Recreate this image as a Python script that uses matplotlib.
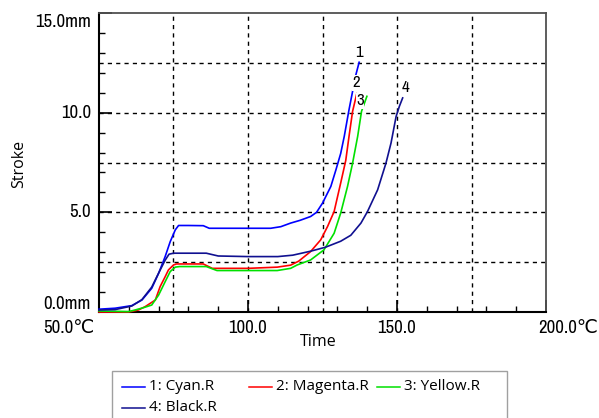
import matplotlib
matplotlib.use("Agg")
import matplotlib.pyplot as plt
from matplotlib.lines import Line2D
from matplotlib.patches import Rectangle
from matplotlib import font_manager

# --- dados ---
temp_cyan = [50, 55.4, 61, 64.4, 67.7, 70, 72.2, 73.9, 75.6, 76.7, 80, 85, 87, 95, 100,
             107.6, 111, 114.3, 117.5, 121, 123, 125, 127.8, 129.5, 131.1, 132.3, 133.9,
             135.1, 136.2, 137.3]
stroke_cyan = [0.14, 0.19, 0.32, 0.6, 1.19, 1.94, 2.78, 3.53, 4.12, 4.34, 4.34, 4.33, 4.2,
               4.2, 4.2, 4.2, 4.28, 4.46, 4.6, 4.79, 5.0, 5.46, 6.3, 7.13, 7.95, 8.81,
               10.15, 11.07, 11.9, 12.53]

temp_magenta = [50, 60, 63.2, 65.5, 68.9, 70.5, 72.2, 73.3, 75, 76, 85, 88, 100, 109.8,
                114.3, 117, 121, 124.4, 126.7, 128.9, 131.1, 132.8, 133.9, 135.1, 136.5]
stroke_magenta = [0.0, 0.0, 0.1, 0.27, 0.6, 1.27, 1.77, 2.11, 2.36, 2.41, 2.41, 2.19, 2.19,
                  2.25, 2.35, 2.55, 3.03, 3.62, 4.29, 5.04, 6.47, 7.6, 8.81, 10.07, 10.95]

temp_yellow = [50, 59.9, 62.1, 65, 67.7, 70, 72.2, 73.9, 75.6, 77, 86, 89.6, 109.8, 114.3,
               116.5, 121, 125.5, 128.9, 131.1, 133.4, 135.1, 136.8, 138.1, 139.9]
stroke_yellow = [0.05, 0.02, 0.1, 0.22, 0.35, 0.85, 1.52, 2.03, 2.25, 2.28, 2.28, 2.08,
                 2.08, 2.19, 2.36, 2.61, 3.12, 3.95, 4.96, 6.3, 7.47, 8.81, 10.07, 10.82]

temp_black = [50, 55.4, 61, 64.4, 67.7, 70, 72.2, 73.5, 75, 80, 86, 90, 100, 110, 115,
              121, 126, 131.1, 134.5, 137.9, 140.1, 143.5, 146.3, 148, 149.7, 150.8, 151.9]
stroke_black = [0.1, 0.12, 0.3, 0.62, 1.25, 1.95, 2.6, 2.9, 2.95, 2.95, 2.95, 2.81, 2.78,
                2.78, 2.85, 3.05, 3.25, 3.55, 3.85, 4.46, 5.04, 6.13, 7.47, 8.48, 9.81,
                10.32, 10.74]

nomes = ["1: Cyan.R", "2: Magenta.R", "3: Yellow.R", "4: Black.R"]
rotulos = ["1", "2", "3", "4"]
cores = ["#0000ff", "#ff0000", "#00e000", "#101090"]

# posições dos números no fim de cada curva
rot_x = [137.3, 136.2, 137.5, 153.0]
rot_y = [13.0, 11.49, 10.6, 11.24]

x_ticks = [50, 100, 150, 200]
x_tick_labels = ["50.0\u2103", "100.0", "150.0", "200.0\u2103"]
y_ticks = [0, 5, 10, 15]
y_tick_labels = ["0.0mm", "5.0", "10.0", "15.0mm"]

# procura uma fonte estreita (parecida com a do software original)
fonte_num = None
tam_num = 13.5
for f in font_manager.fontManager.ttflist:
    if "Narrow" in f.name or "Condensed" in f.name:
        fonte_num = [f.name, "DejaVu Sans"]
        break
if fonte_num is None:
    fonte_num = ["Liberation Sans", "DejaVu Sans"]
    tam_num = 10.5
fonte_txt = ["Open Sans", "DejaVu Sans"]

W, H = 599, 418
fig = plt.figure(figsize=(W / 100, H / 100), dpi=100)
ax = fig.add_axes([99 / W, 1 - 312 / H, (546 - 99) / W, (312 - 13) / H])

series = [(temp_cyan, stroke_cyan), (temp_magenta, stroke_magenta),
          (temp_yellow, stroke_yellow), (temp_black, stroke_black)]
for (xs, ys), cor in zip(series, cores):
    ax.plot(xs, ys, color=cor, lw=1.2, zorder=3, clip_on=False)

for rx, ry, r in zip(rot_x, rot_y, rotulos):
    ax.text(rx, ry, r, ha="center", va="center", fontsize=tam_num - 1.5, family=fonte_num,
            zorder=5, bbox=dict(facecolor="white", edgecolor="none", pad=0.3))

ax.set_xlim(50, 200)
ax.set_ylim(0, 15)

# grade tracejada
for gx in [75, 100, 125, 150, 175]:
    ax.axvline(gx, color="black", lw=1.0, ls=(0, (3, 3)), zorder=1)
for gy in [2.5, 5, 7.5, 10, 12.5]:
    ax.axhline(gy, color="black", lw=1.0, ls=(0, (3, 3)), zorder=1)

ax.set_xticks(x_ticks)
ax.set_yticks(y_ticks)
ax.set_xticks(range(50, 201, 10), minor=True)
ax.set_yticks(range(0, 16), minor=True)
ax.set_xticklabels([])
ax.set_yticklabels([])
ax.tick_params(which="major", direction="in", length=9, width=1.2, color="black")
ax.tick_params(which="minor", direction="in", length=4.3, width=1.0, color="black")

for s in ["left", "bottom"]:
    ax.spines[s].set_color("black")
    ax.spines[s].set_linewidth(1.5)
for s in ["top", "right"]:
    ax.spines[s].set_color("#505050")
    ax.spines[s].set_linewidth(1.3)

# rótulos dos eixos (texto no estilo do software original)
ha_x = ["right", "center", "center", "right"]
for v, lab, ha in zip(x_ticks, x_tick_labels, ha_x):
    px = 99 + (v - 50) / 150 * (546 - 99)
    if v == x_ticks[0]:
        px -= 4
    if v == x_ticks[-1]:
        px = 598
    fig.text(px / W, 1 - 320 / H, lab, ha=ha, va="top", fontsize=tam_num, family=fonte_num)

va_y = ["bottom", "center", "center", "top"]
for v, lab, va in zip(y_ticks, y_tick_labels, va_y):
    py = 312 - v / 15 * (312 - 13)
    if va == "top":
        py += 1
    fig.text(91 / W, 1 - py / H, lab, ha="right", va=va, fontsize=tam_num, family=fonte_num)

fig.text(318 / W, 1 - 342 / H, "Time", ha="center", va="center", fontsize=11.5, family=fonte_txt)
fig.text(19 / W, 1 - 164 / H, "Stroke", ha="center", va="center", rotation=90,
         fontsize=11.5, family=fonte_txt)

# legenda desenhada à mão (colunas de largura fixa como no original)
fig.add_artist(Rectangle((112 / W, 1 - 440 / H), (507 - 112) / W, (440 - 371) / H,
                         transform=fig.transFigure, facecolor="white",
                         edgecolor="#a0a0a0", lw=1.0))
pos_leg = [(121.7, 386.7), (249, 386.7), (376.7, 386.7), (121.7, 407.7)]
for (lx, ly), nome, cor in zip(pos_leg, nomes, cores):
    fig.add_artist(Line2D([lx / W, (lx + 23) / W], [1 - ly / H, 1 - ly / H],
                          transform=fig.transFigure, color=cor, lw=1.1))
    fig.text((lx + 27) / W, 1 - ly / H, nome, ha="left", va="center",
             fontsize=11, family=fonte_txt)

plt.savefig("out.png", dpi=100)
plt.close()
